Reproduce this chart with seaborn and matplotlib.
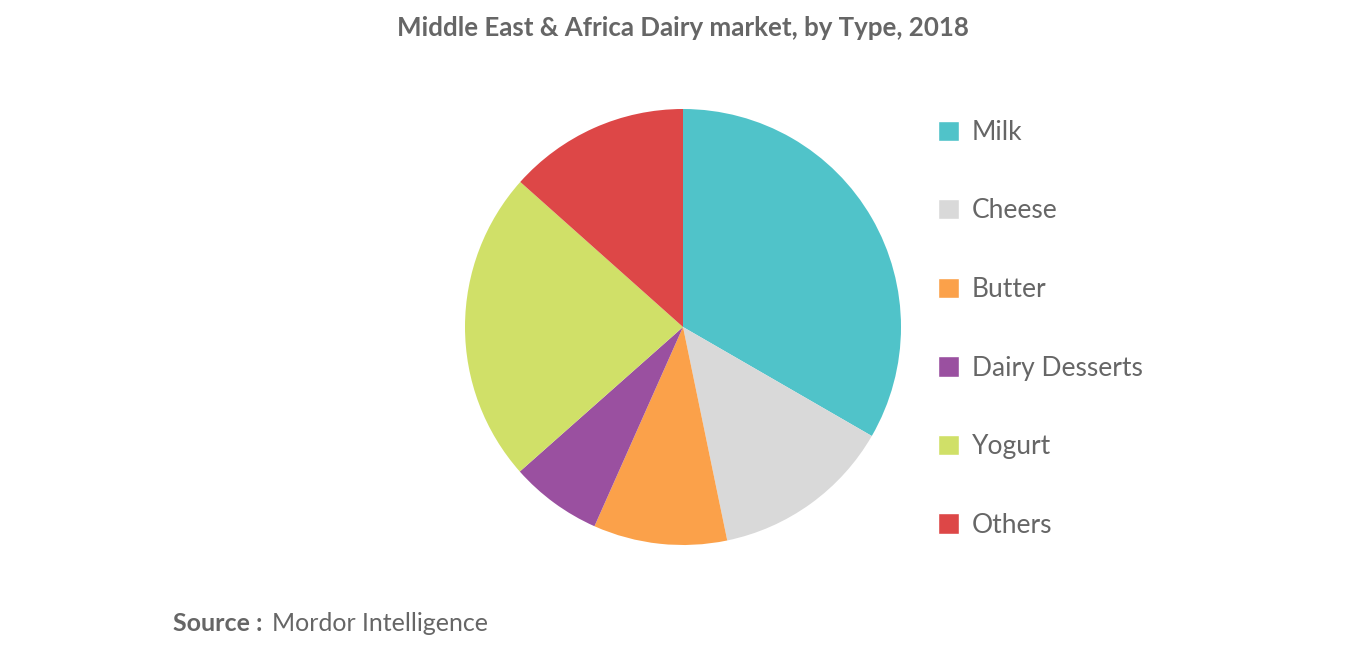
import matplotlib
matplotlib.use("Agg")
import matplotlib.pyplot as plt
import seaborn as sns
from matplotlib.patches import Patch

sns.set_theme(style="white")
plt.rcParams['font.family'] = ['Lato', 'DejaVu Sans']

categories = ["Milk", "Cheese", "Butter", "Dairy Desserts", "Yogurt", "Others"]
values = [33.3, 13.4, 9.9, 6.8, 23.1, 13.4]
colors = ["#50c3c9", "#d9d9d9", "#fba14a", "#9a50a0", "#d0e068", "#dd4747"]

fig = plt.figure(figsize=(13.66, 6.55), dpi=100)
ax = fig.add_axes([683/1366 - 218/1366, 1 - (327+218)/655, 436/1366, 436/655])
ax.pie(values, colors=colors, startangle=90, counterclock=False,
       wedgeprops=dict(linewidth=0))
ax.set_xlim(-1, 1)
ax.set_ylim(-1, 1)
ax.set_aspect('equal')

handles = [Patch(facecolor=c, label=l) for c, l in zip(colors, categories)]
fig.legend(handles=handles, loc='center left', bbox_to_anchor=(0.669, 0.498),
           frameon=False, fontsize=19, labelcolor='#666666',
           handlelength=0.8, handleheight=0.8, labelspacing=2.03, handletextpad=0.5)

fig.text(0.5, 0.958, "Middle East & Africa Dairy market, by Type, 2018",
         ha='center', va='center', fontsize=18.6, fontweight='bold', color='#666666')
fig.text(0.127, 0.048, "Source :", ha='left', va='center', fontsize=18,
         fontweight='bold', color='#666666')
fig.text(0.199, 0.048, "Mordor Intelligence", ha='left', va='center', fontsize=18,
         color='#666666')
fig.savefig("out.png", dpi=100)
